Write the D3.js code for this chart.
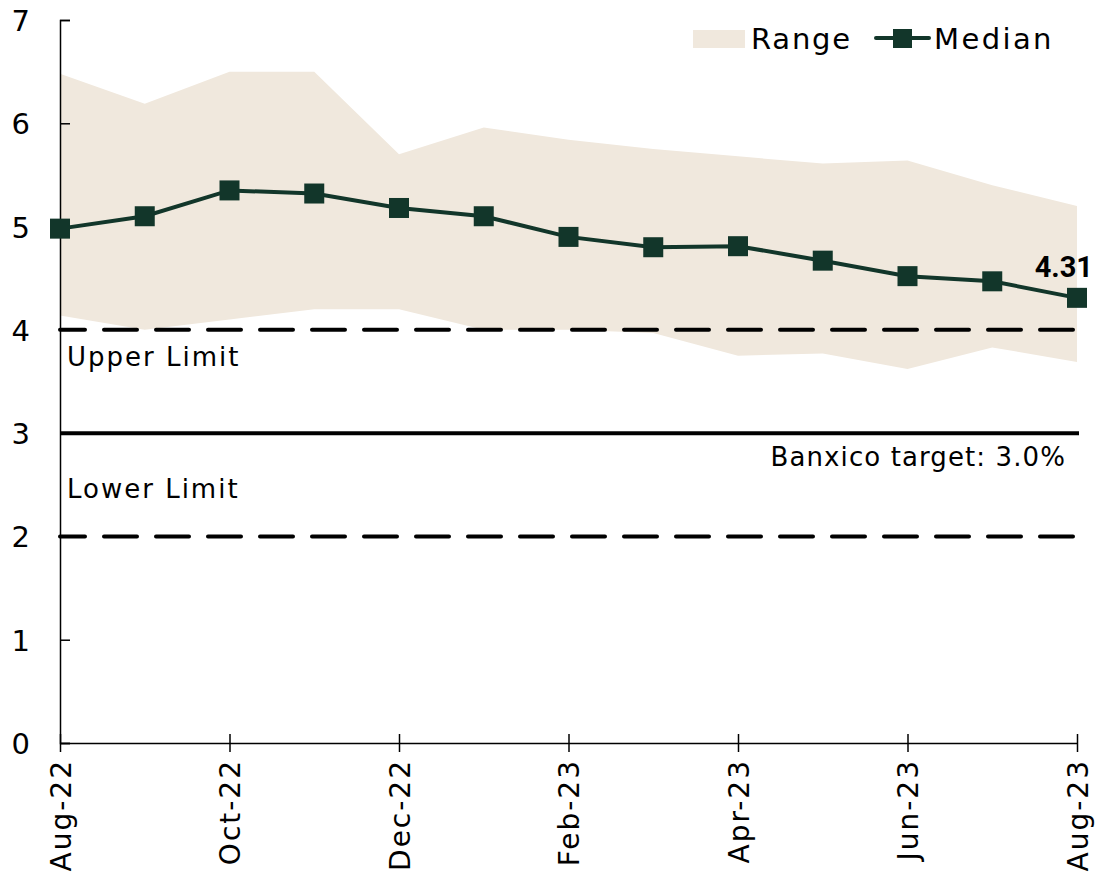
<!DOCTYPE html>
<html>
<head>
<meta charset="utf-8">
<script src="https://cdn.jsdelivr.net/npm/d3@7"></script>
<style>
  body { margin: 0; background: #fff; }
  text { font-family: "DejaVu Sans", sans-serif; }
</style>
</head>
<body>
<div id="chart"></div>
<script>
var width = 1096, height = 878;

const months = ["Aug-22","Sep-22","Oct-22","Nov-22","Dec-22","Jan-23","Feb-23",
                "Mar-23","Apr-23","May-23","Jun-23","Jul-23","Aug-23"];
const median = [4.98, 5.10, 5.35, 5.32, 5.18, 5.10, 4.90, 4.80, 4.81, 4.67, 4.52, 4.47, 4.31];
const rangeHigh = [6.48, 6.19, 6.50, 6.50, 5.70, 5.96, 5.84, 5.75, 5.68, 5.61, 5.64, 5.40, 5.20];
const rangeLow = [4.14, 4.00, 4.10, 4.20, 4.20, 4.00, 4.00, 3.97, 3.75, 3.77, 3.62, 3.83, 3.69];
const yTicks = [0, 1, 2, 3, 4, 5, 6, 7];
const upperLimit = 4, target = 3, lowerLimit = 2;

const green = "#12362a", sand = "#f0e8dd";

const svg = d3.select("#chart").append("svg")
    .attr("width", width)
    .attr("height", height);

const x = d3.scalePoint()
    .domain(months)
    .range([60, 1077]);

const y = d3.scaleLinear()
    .domain([0, 7])
    .range([743, 20]);

// range band
const area = d3.area()
    .x(function(d, i) { return x(months[i]); })
    .y0(function(d, i) { return y(rangeLow[i]); })
    .y1(function(d) { return y(d); });

svg.append("path")
    .datum(rangeHigh)
    .attr("d", area)
    .attr("fill", sand);

// reference lines
function refLine(v, dashed) {
  svg.append("line")
      .attr("x1", 60).attr("x2", 1079)
      .attr("y1", y(v)).attr("y2", y(v))
      .attr("stroke", "#000")
      .attr("stroke-width", 4)
      .attr("stroke-linecap", dashed ? "round" : "butt")
      .attr("stroke-dasharray", dashed ? "33 19" : null)
      .attr("stroke-dashoffset", dashed ? 8 : null);
}
refLine(upperLimit, true);
refLine(target, false);
refLine(lowerLimit, true);

// axes
const yAxis = svg.append("g")
    .attr("transform", "translate(60,0)")
    .call(d3.axisRight(y).tickValues(yTicks).tickSize(10).tickFormat(d3.format("d")));
yAxis.select(".domain").attr("stroke-width", 1.5);
yAxis.selectAll(".tick line").attr("stroke-width", 1.5);
yAxis.selectAll(".tick text")
    .attr("x", -30)
    .attr("text-anchor", "end")
    .attr("dy", "0.36em")
    .style("font-size", "29px")
    .attr("fill", "#000");

const xAxis = svg.append("g")
    .attr("transform", "translate(0,743)")
    .call(d3.axisBottom(x).tickValues(months.filter(function(d, i) { return i % 2 == 0; }))
        .tickSize(0).tickSizeOuter(0));
xAxis.select(".domain").attr("stroke-width", 1.5);
xAxis.selectAll(".tick line").remove();
xAxis.selectAll(".tick").append("line")
    .attr("y1", -9).attr("y2", 9)
    .attr("stroke", "#000")
    .attr("stroke-width", 1.5);
xAxis.selectAll(".tick text")
    .attr("transform", "rotate(-90)")
    .attr("x", -16)
    .attr("y", 0)
    .attr("dy", "0.36em")
    .attr("text-anchor", "end")
    .style("font-size", "28px")
    .style("letter-spacing", "2px")
    .attr("fill", "#000");

// median line
const line = d3.line()
    .x(function(d, i) { return x(months[i]); })
    .y(function(d) { return y(d); });

svg.append("path")
    .datum(median)
    .attr("d", line)
    .attr("fill", "none")
    .attr("stroke", green)
    .attr("stroke-width", 4);

svg.selectAll("rect.marker")
    .data(median)
    .join("rect")
    .attr("class", "marker")
    .attr("x", function(d, i) { return x(months[i]) - 10; })
    .attr("y", function(d) { return y(d) - 10; })
    .attr("width", 20)
    .attr("height", 20)
    .attr("fill", green);

// last value label
svg.append("text")
    .attr("x", 1093)
    .attr("y", 277)
    .attr("text-anchor", "end")
    .style("font-family", "Roboto, sans-serif")
    .style("font-size", "29px")
    .style("font-weight", "bold")
    .text(d3.format(".2f")(median[median.length - 1]));

// annotations
function note(tx, ty, s, anchor, ls) {
  svg.append("text").attr("x", tx).attr("y", ty)
      .attr("text-anchor", anchor)
      .style("font-size", "26px")
      .style("letter-spacing", ls + "px")
      .text(s);
}
note(67, 366, "Upper Limit", "start", 2);
note(67, 498, "Lower Limit", "start", 2);
note(1066, 466, "Banxico target: 3.0%", "end", 1.1);

// legend
const legend = svg.append("g");
legend.append("rect")
    .attr("x", 693).attr("y", 30).attr("width", 52).attr("height", 18)
    .attr("fill", sand);
legend.append("text").attr("x", 751).attr("y", 49)
    .style("font-size", "29px").style("letter-spacing", "1.8px").text("Range");
legend.append("line")
    .attr("x1", 876).attr("x2", 929).attr("y1", 38).attr("y2", 38)
    .attr("stroke", green).attr("stroke-width", 4).attr("stroke-linecap", "round");
legend.append("rect")
    .attr("x", 893).attr("y", 29).attr("width", 19).attr("height", 19)
    .attr("fill", green);
legend.append("text").attr("x", 934).attr("y", 49)
    .style("font-size", "29px").style("letter-spacing", "2.4px").text("Median");
</script>
</body>
</html>
